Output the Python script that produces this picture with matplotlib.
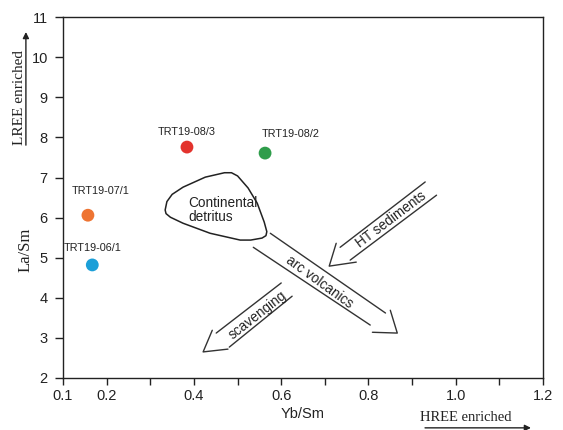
import matplotlib
matplotlib.use("Agg")
import matplotlib.pyplot as plt
from matplotlib.patches import Polygon, FancyArrowPatch

plt.rcParams['font.family'] = ['Liberation Sans', 'DejaVu Sans']

# samples: Yb/Sm vs La/Sm
samples = ["TRT19-08/3", "TRT19-08/2", "TRT19-07/1", "TRT19-06/1"]
yb_sm = [0.384, 0.563, 0.157, 0.167]
la_sm = [7.76, 7.61, 6.06, 4.82]
colors = ["#e3332d", "#2f9d4b", "#ee7432", "#1c9fd8"]
label_pos = [(0.384, 8.02, "center"), (0.555, 7.95, "left"), (0.12, 6.55, "left"), (0.167, 5.12, "center")]

xticks = [0.1, 0.2, 0.3, 0.4, 0.5, 0.6, 0.7, 0.8, 0.9, 1.0, 1.1, 1.2]
xticklabels = ["0.1", "0.2", "", "0.4", "", "0.6", "", "0.8", "", "1.0", "", "1.2"]
yticks = [2, 3, 4, 5, 6, 7, 8, 9, 10, 11]

# outline of the "Continental detritus" field
detritus_x = [0.334, 0.338, 0.350, 0.375, 0.426, 0.470, 0.486, 0.500, 0.524, 0.545, 0.561, 0.567,
              0.565, 0.556, 0.530, 0.506, 0.437, 0.375, 0.346, 0.336]
detritus_y = [6.19, 6.40, 6.58, 6.76, 7.01, 7.12, 7.12, 7.04, 6.74, 6.36, 5.89, 5.65,
              5.55, 5.49, 5.44, 5.44, 5.61, 5.86, 6.01, 6.10]

# hollow trend arrows: two shaft lines plus an open V head
arrows = {
    "arc volcanics": dict(upper=[(0.575, 5.61), (0.839, 3.62)], lower=[(0.536, 5.26), (0.804, 3.32)],
                          head=[(0.850, 3.69), (0.866, 3.12), (0.809, 3.14)], text=(0.688, 4.40), rot=-36),
    "scavenging": dict(upper=[(0.600, 4.37), (0.451, 3.12)], lower=[(0.625, 4.04), (0.481, 2.77)],
                       head=[(0.442, 3.19), (0.421, 2.65), (0.478, 2.72)], text=(0.545, 3.57), rot=38),
    "HT sediments": dict(upper=[(0.930, 6.89), (0.735, 5.26)], lower=[(0.956, 6.56), (0.758, 4.94)],
                         head=[(0.726, 5.36), (0.710, 4.79), (0.772, 4.89)], text=(0.852, 5.94), rot=37),
}

fig = plt.figure(figsize=(5.63, 4.30), dpi=100)
ax = fig.add_axes([0.112, 0.121, 0.8525, 0.839])

ax.scatter(yb_sm, la_sm, s=85, c=colors, edgecolors="none", zorder=3)
for name, (tx, ty, ha) in zip(samples, label_pos):
    ax.text(tx, ty, name, fontsize=7.8, ha=ha, va="bottom", color="#222222")

ax.add_patch(Polygon(list(zip(detritus_x, detritus_y)), closed=True, fill=False,
                     edgecolor="#222222", lw=1.1, joinstyle="round"))
ax.text(0.387, 6.19, "Continental\ndetritus", fontsize=9.8, ha="left", va="center",
        linespacing=1.0, color="#222222")

line_kw = dict(color="#333333", lw=1.0, solid_capstyle="round", solid_joinstyle="round")
for name, a in arrows.items():
    for key in ("upper", "lower", "head"):
        xs, ys = zip(*a[key])
        ax.plot(xs, ys, **line_kw)
    ax.text(a["text"][0], a["text"][1], name, rotation=a["rot"], fontsize=9.8,
            ha="center", va="center", rotation_mode="anchor", color="#222222")

ax.set_xlim(0.1, 1.2)
ax.set_ylim(2, 11)
ax.set_xticks(xticks)
ax.set_xticklabels(xticklabels)
ax.set_yticks(yticks)
ax.tick_params(direction="out", length=5, width=1, labelsize=10.5, colors="#222222", pad=3)
ax.tick_params(axis="y", length=6, pad=5)
for sp in ax.spines.values():
    sp.set_linewidth(1.0)
    sp.set_color("#222222")

ax.set_xlabel("Yb/Sm", fontsize=10.5, labelpad=3, color="#222222")
ax.set_ylabel("La/Sm", fontsize=12, family="Liberation Serif", color="#222222")
ax.yaxis.set_label_coords(-0.062, 0.355)

# enrichment direction notes outside the axes
fig.text(0.034, 0.772, "LREE enriched", rotation=90, fontsize=11, family="Liberation Serif",
         ha="center", va="center", color="#222222")
fig.add_artist(FancyArrowPatch((0.046, 0.656), (0.046, 0.932), transform=fig.transFigure,
                               arrowstyle="-|>", mutation_scale=9, lw=1.0, color="#222222"))
fig.text(0.828, 0.030, "HREE enriched", fontsize=10.5, family="Liberation Serif",
         ha="center", va="center", color="#222222")
fig.add_artist(FancyArrowPatch((0.750, 0.005), (0.948, 0.005), transform=fig.transFigure,
                               arrowstyle="-|>", mutation_scale=9, lw=1.0, color="#222222"))

fig.savefig("out.png", dpi=100)
